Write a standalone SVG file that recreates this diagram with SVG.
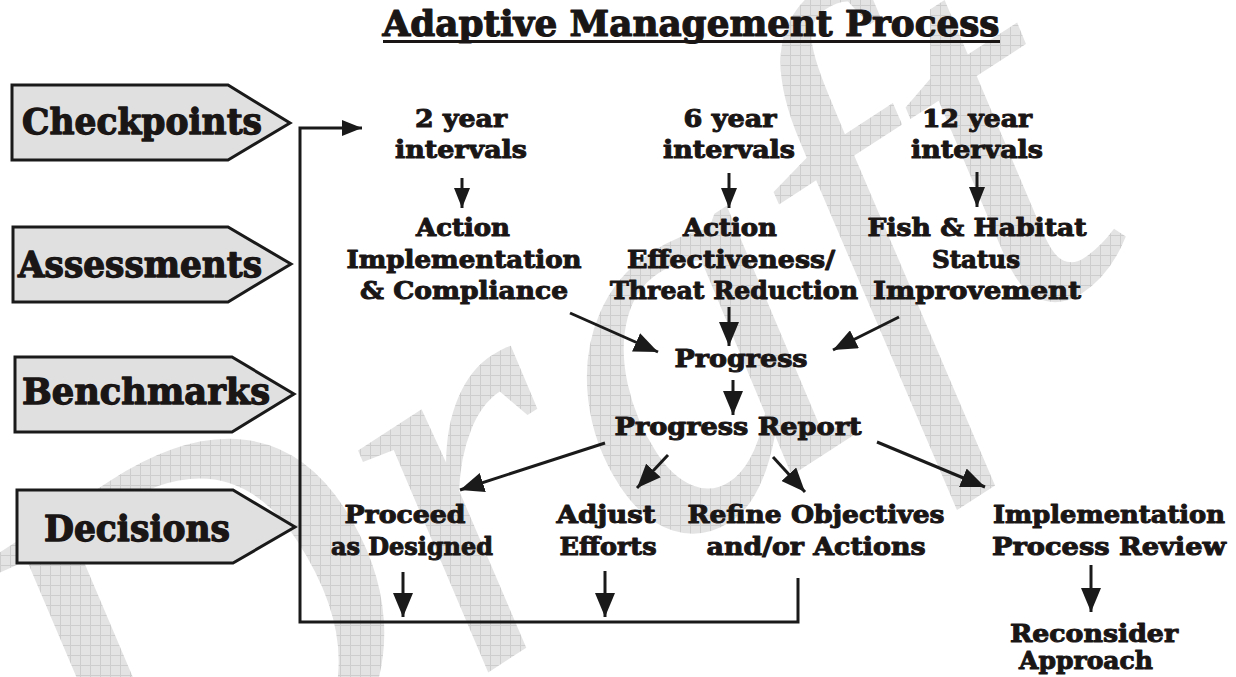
<svg xmlns="http://www.w3.org/2000/svg" width="1236" height="677" viewBox="0 0 1236 677">
<defs>
<pattern id="grid" width="10" height="10" patternUnits="userSpaceOnUse" patternTransform="rotate(33)">
<rect width="10" height="10" fill="#e3e3e3"/>
<path d="M0 0.5H10M0.5 0V10" stroke="#cdcdcd" stroke-width="1"/>
</pattern>
<marker id="ah" viewBox="0 0 20 16" refX="20" refY="8" markerWidth="20" markerHeight="16" markerUnits="userSpaceOnUse" orient="auto">
<path d="M0,0 L20,8 L0,16 z" fill="#1a1a1a"/>
</marker>
<marker id="ahL" viewBox="0 0 24 20" refX="24" refY="10" markerWidth="24" markerHeight="20" markerUnits="userSpaceOnUse" orient="auto">
<path d="M0,0 L24,10 L0,20 z" fill="#1a1a1a"/>
</marker>
</defs>
<style>
text{font-family:"DejaVu Serif","Liberation Serif",serif;font-weight:bold;fill:#1a1616;stroke:#1a1616;stroke-linejoin:round}
.t{font-size:24px;text-anchor:middle;stroke-width:1}
.box{font-size:35px;stroke-width:1.3}
.title{font-size:35px;text-anchor:middle;stroke-width:1.2}
.sign{fill:#e0e0e0;stroke:#1a1a1a;stroke-width:3;stroke-linejoin:miter}
.c{fill:none;stroke:#1a1a1a;stroke-width:3}
.wm{font-family:"Liberation Serif",serif;font-style:italic;font-weight:normal;fill:url(#grid);stroke:none}
</style>
<rect width="1236" height="677" fill="#ffffff"/>
<g id="watermark">
<text class="wm" transform="translate(130,905) rotate(-33)" font-size="560">Draft</text>
</g>
<g id="title">
<text class="title" x="691" y="36" textLength="617" lengthAdjust="spacingAndGlyphs">Adaptive Management Process</text>
<rect x="383" y="40" width="617" height="3" fill="#1a1616"/>
</g>
<g id="checkpoints">
<polygon class="sign" points="12,85 228,85 290,123 228,160 12,160"/>
<text class="box" x="22" y="134" textLength="240" lengthAdjust="spacingAndGlyphs">Checkpoints</text>
</g>
<g id="assessments">
<polygon class="sign" points="13,227 228,227 291,264 228,302 13,302"/>
<text class="box" x="18" y="277" textLength="244" lengthAdjust="spacingAndGlyphs">Assessments</text>
</g>
<g id="benchmarks">
<polygon class="sign" points="15,357 232,357 294,394 232,432 15,432"/>
<text class="box" x="22" y="404" textLength="248" lengthAdjust="spacingAndGlyphs">Benchmarks</text>
</g>
<g id="decisions">
<polygon class="sign" points="17,490 233,490 295,527 233,563 17,563"/>
<text class="box" x="44" y="541" textLength="186" lengthAdjust="spacingAndGlyphs">Decisions</text>
</g>
<g id="n2year">
<text class="t" x="461" y="127" textLength="92" lengthAdjust="spacingAndGlyphs">2 year</text>
<text class="t" x="461" y="158" textLength="132" lengthAdjust="spacingAndGlyphs">intervals</text>
</g>
<g id="n6year">
<text class="t" x="730" y="127" textLength="93" lengthAdjust="spacingAndGlyphs">6 year</text>
<text class="t" x="729" y="158" textLength="132" lengthAdjust="spacingAndGlyphs">intervals</text>
</g>
<g id="n12year">
<text class="t" x="977" y="127" textLength="110" lengthAdjust="spacingAndGlyphs">12 year</text>
<text class="t" x="977" y="158" textLength="132" lengthAdjust="spacingAndGlyphs">intervals</text>
</g>
<g id="implementation">
<text class="t" x="463" y="236" textLength="94" lengthAdjust="spacingAndGlyphs">Action</text>
<text class="t" x="464" y="268" textLength="235" lengthAdjust="spacingAndGlyphs">Implementation</text>
<text class="t" x="464" y="299" textLength="208" lengthAdjust="spacingAndGlyphs">&amp; Compliance</text>
</g>
<g id="effectiveness">
<text class="t" x="730" y="236" textLength="94" lengthAdjust="spacingAndGlyphs">Action</text>
<text class="t" x="731" y="268" textLength="208" lengthAdjust="spacingAndGlyphs">Effectiveness/</text>
<text class="t" x="734" y="299" textLength="248" lengthAdjust="spacingAndGlyphs">Threat Reduction</text>
</g>
<g id="status">
<text class="t" x="977" y="236" textLength="219" lengthAdjust="spacingAndGlyphs">Fish &amp; Habitat</text>
<text class="t" x="976" y="268" textLength="88" lengthAdjust="spacingAndGlyphs">Status</text>
<text class="t" x="977" y="299" textLength="208" lengthAdjust="spacingAndGlyphs">Improvement</text>
</g>
<g id="progress">
<text class="t" x="741" y="367" textLength="133" lengthAdjust="spacingAndGlyphs">Progress</text>
</g>
<g id="report">
<text class="t" x="738" y="435" textLength="247" lengthAdjust="spacingAndGlyphs">Progress Report</text>
</g>
<g id="proceed">
<text class="t" x="405" y="523" textLength="121" lengthAdjust="spacingAndGlyphs">Proceed</text>
<text class="t" x="412" y="555" textLength="162" lengthAdjust="spacingAndGlyphs">as Designed</text>
</g>
<g id="adjust">
<text class="t" x="606" y="523" textLength="99" lengthAdjust="spacingAndGlyphs">Adjust</text>
<text class="t" x="608" y="555" textLength="97" lengthAdjust="spacingAndGlyphs">Efforts</text>
</g>
<g id="refine">
<text class="t" x="816" y="523" textLength="257" lengthAdjust="spacingAndGlyphs">Refine Objectives</text>
<text class="t" x="816" y="555" textLength="219" lengthAdjust="spacingAndGlyphs">and/or Actions</text>
</g>
<g id="review">
<text class="t" x="1109" y="523" textLength="232" lengthAdjust="spacingAndGlyphs">Implementation</text>
<text class="t" x="1109" y="555" textLength="234" lengthAdjust="spacingAndGlyphs">Process Review</text>
</g>
<g id="reconsider">
<text class="t" x="1094" y="642" textLength="168" lengthAdjust="spacingAndGlyphs">Reconsider</text>
<text class="t" x="1086" y="669" textLength="134" lengthAdjust="spacingAndGlyphs">Approach</text>
</g>
<g id="connectors">
<polyline class="c" points="798,578 798,622 300,622 300,128 362,128" marker-end="url(#ah)"/>
<line class="c" x1="462" y1="178" x2="462" y2="208" marker-end="url(#ah)"/>
<line class="c" x1="729" y1="173" x2="729" y2="208" marker-end="url(#ah)"/>
<line class="c" x1="977" y1="172" x2="977" y2="207" marker-end="url(#ah)"/>
<line class="c" x1="729" y1="307" x2="729" y2="346" marker-end="url(#ahL)"/>
<line class="c" x1="570" y1="313" x2="658" y2="352" marker-end="url(#ahL)"/>
<line class="c" x1="899" y1="317" x2="833" y2="350" marker-end="url(#ahL)"/>
<line class="c" x1="733" y1="380" x2="733" y2="415" marker-end="url(#ahL)"/>
<line class="c" x1="605" y1="443" x2="460" y2="490" marker-end="url(#ahL)"/>
<line class="c" x1="668" y1="455" x2="637" y2="488" marker-end="url(#ahL)"/>
<line class="c" x1="773" y1="457" x2="805" y2="492" marker-end="url(#ahL)"/>
<line class="c" x1="877" y1="442" x2="985" y2="487" marker-end="url(#ahL)"/>
<line class="c" x1="403" y1="572" x2="403" y2="617" marker-end="url(#ahL)"/>
<line class="c" x1="605" y1="571" x2="605" y2="617" marker-end="url(#ahL)"/>
<line class="c" x1="1091" y1="565" x2="1091" y2="612" marker-end="url(#ahL)"/>
</g>
</svg>
